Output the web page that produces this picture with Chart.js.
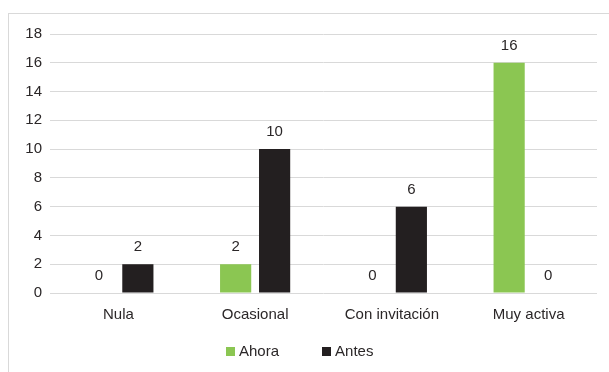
<!DOCTYPE html>
<html>
<head>
  <meta charset="utf-8">
  <style>
    body { margin: 0; background: #fff; }
    #frame { position: absolute; left: 8px; top: 13px; width: 601px; height: 359px;
             border-top: 1px solid #d9d9d9; border-left: 1px solid #d9d9d9; }
    #legend { position: absolute; left: 226px; top: 343px; display: flex;
              font: 15px/16px "Liberation Sans", Arial, sans-serif; color: #2b2728; }
    #legend span { display: flex; align-items: center; margin-right: 43px; }
    #legend i { display: inline-block; width: 9px; height: 9px; margin-right: 4px; }
  </style>
</head>
<body>
  <div id="frame"><canvas id="chart" width="601" height="359"></canvas></div>
  <div id="legend"></div>

  <script src="https://cdn.jsdelivr.net/npm/chart.js"></script>
  <script>
    const categories = ['Nula', 'Ocasional', 'Con invitación', 'Muy activa'];
    const ahora = [0, 2, 0, 16];
    const antes = [2, 10, 6, 0];
    const yTicks = [0, 2, 4, 6, 8, 10, 12, 14, 16, 18];

    const textColor = '#2b2728';
    const fontFamily = '"Liberation Sans", Arial, sans-serif';
    Chart.defaults.font.family = fontFamily;
    Chart.defaults.font.size = 15;
    Chart.defaults.color = textColor;

    // values above each bar
    const valueLabels = {
      id: 'valueLabels',
      afterDatasetsDraw(chart) {
        const ctx = chart.ctx;
        ctx.save();
        ctx.font = '15px ' + fontFamily;
        ctx.fillStyle = textColor;
        ctx.textAlign = 'center';
        ctx.textBaseline = 'middle';
        chart.data.datasets.forEach((ds, i) => {
          chart.getDatasetMeta(i).data.forEach((bar, j) => {
            ctx.fillText(ds.data[j], bar.x, bar.y - 17);
          });
        });
        ctx.restore();
      }
    };

    const chart = new Chart(document.getElementById('chart'), {
      type: 'bar',
      data: {
        labels: categories,
        datasets: [
          { label: 'Ahora', data: ahora, backgroundColor: '#8bc652' },
          { label: 'Antes', data: antes, backgroundColor: '#231f20' }
        ]
      },
      options: {
        responsive: false,
        animation: false,
        categoryPercentage: 0.57,
        barPercentage: 0.8,
        layout: { padding: { top: 20, right: 13, bottom: 0, left: 0 } },
        scales: {
          x: {
            afterFit: s => { s.height = 80; },
            grid: { display: false, drawTicks: false },
            border: { display: false },
            ticks: { padding: 13 }
          },
          y: {
            min: 0,
            max: 18,
            afterFit: s => { s.width = 41; },
            afterBuildTicks: s => { s.ticks = yTicks.map(v => ({ value: v })); },
            grid: { color: '#d9d9d9', drawTicks: false },
            border: { display: false },
            ticks: { padding: 8 }
          }
        },
        plugins: {
          tooltip: { enabled: false },
          legend: { display: false }
        }
      },
      plugins: [valueLabels]
    });

    // legend under the chart
    const legend = document.getElementById('legend');
    chart.data.datasets.forEach(ds => {
      const item = document.createElement('span');
      item.innerHTML = `<i style="background:${ds.backgroundColor}"></i>${ds.label}`;
      legend.appendChild(item);
    });
  </script>
</body>
</html>
